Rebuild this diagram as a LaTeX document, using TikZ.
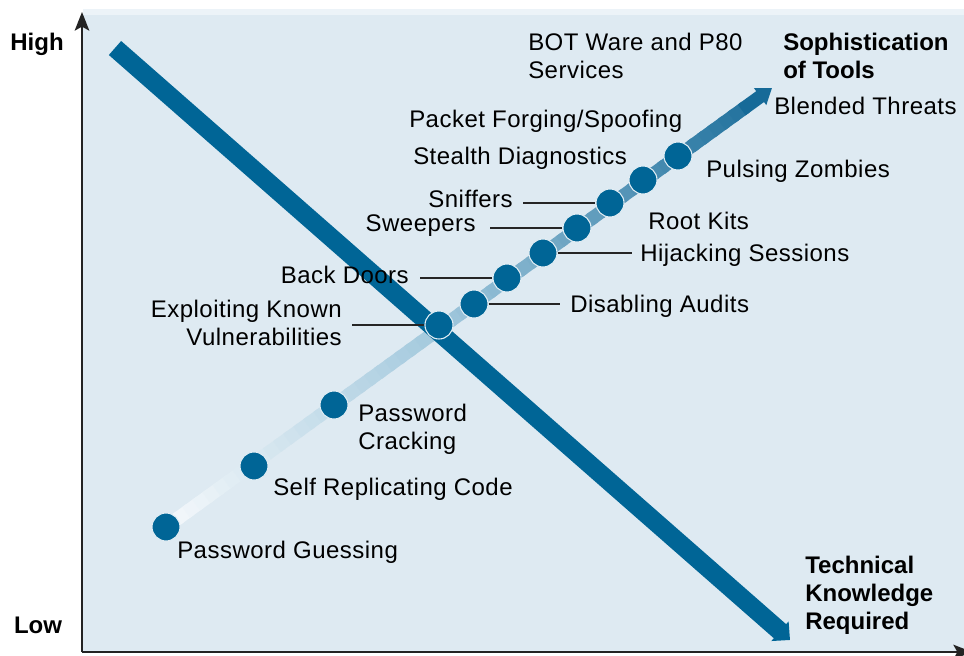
\documentclass[tikz,border=0pt]{standalone}
\usepackage{fontspec}
\setmainfont{Liberation Sans}[LetterSpace=2, BoldFeatures={LetterSpace=0}]
\usetikzlibrary{arrows.meta,calc}

\definecolor{panel}{RGB}{222,234,242}
\definecolor{panelrim}{RGB}{236,243,248}
\definecolor{deepblue}{RGB}{0,101,150}
\definecolor{barstart}{RGB}{244,248,251}
\definecolor{barmid}{RGB}{160,199,220}
\definecolor{barend}{RGB}{22,106,152}
\definecolor{axisgray}{RGB}{35,35,35}
\definecolor{ring}{RGB}{225,237,244}

\tikzset{
  lbl/.style={inner sep=0pt, font=\fontsize{18}{21}\selectfont, text=black},
  hdr/.style={inner sep=0pt, font=\fontsize{18}{21}\selectfont\bfseries, text=black},
  dot/.style={circle, fill=deepblue, draw=ring, line width=0.8pt,
              minimum size=21pt, inner sep=0pt},
  leader/.style={draw=black!85, line width=1pt},
  axis/.style={draw=axisgray, line width=1.1pt,
               -{Stealth[length=14pt,width=11pt,inset=3pt]}},
}

\begin{document}
\begin{tikzpicture}[x=0.75pt,y=-0.75pt]
\useasboundingbox (0,0) rectangle (964,656);

% plotting area
\fill[panelrim] (83,9) rectangle (964,15);
\fill[panel] (83,15) rectangle (964,652);

% axes
\coordinate (origin) at (82,652);
\coordinate (ytop) at (82,12);
\coordinate (xend) at (972,652);
\draw[axis] (origin) -- (ytop);
\draw[axis] (origin) -- (xend);
\node[hdr, anchor=base] (high) at (37,51) {High};
\node[hdr, anchor=base] (low) at (38,633) {Low};

% rising bar: sophistication of tools, fading from white to blue
\coordinate (barstart) at (166,527);
\coordinate (bartip) at (772,88);
\foreach \i in {0,...,56}{
  \pgfmathsetmacro\ta{\i/60}
  \pgfmathsetmacro\tb{(\i+1.4)/60}
  \ifnum\i<27
    \pgfmathsetmacro\pc{\i/27*100}
    \colorlet{segc}{barmid!\pc!barstart}
  \else
    \pgfmathsetmacro\pc{(\i-27)/33*100}
    \colorlet{segc}{barend!\pc!barmid}
  \fi
  \draw[segc, line width=10pt] ($(barstart)!\ta!(bartip)$) -- ($(barstart)!\tb!(bartip)$);
}
\draw[barend, line width=10pt, -{Triangle[length=11pt,width=15pt]}]
  ($(barstart)!0.95!(bartip)$) -- (bartip);

% falling bar: technical knowledge required
\coordinate (kstart) at (115,48);
\coordinate (kend) at (790,640);
\draw[deepblue, line width=14pt, -{Triangle[length=10pt,width=19pt]}] (kstart) -- (kend);

% milestones
\node[dot] (guess)  at (166,527) {};
\node[dot] (selfr)  at (254,466) {};
\node[dot] (crack)  at (334,405) {};
\node[dot] (exploit) at (439,325) {};
\node[dot] (audits) at (474,304) {};
\node[dot] (doors)  at (507,278) {};
\node[dot] (hijack) at (543,253) {};
\node[dot] (sweep)  at (577,228) {};
\node[dot] (sniff)  at (610,203) {};
\node[dot] (stealth) at (643,180) {};
\node[dot] (forge)  at (678,156) {};

% leader lines
\coordinate (sniffL) at (523,203);
\coordinate (sweepL) at (490,228);
\coordinate (hijackR) at (632,253);
\coordinate (doorsL) at (420,278);
\coordinate (auditsR) at (560,304);
\coordinate (exploitL) at (352,325);
\draw[leader] (sniffL) -- (sniff);
\draw[leader] (sweepL) -- (sweep);
\draw[leader] (hijack) -- (hijackR);
\draw[leader] (doorsL) -- (doors);
\draw[leader] (audits) -- (auditsR);
\draw[leader] (exploitL) -- (exploit);

% labels (multi-line nodes sit on the baseline of their last line)
\node[lbl, anchor=base west, align=left] (tbot) at (528,79) {BOT Ware and P80\\Services};
\node[hdr, anchor=base west, align=left] (tsoph) at (783,79) {Sophistication\\of Tools};
\node[lbl, anchor=base west] (tblend) at (774,115) {Blended Threats};
\node[lbl, anchor=base west] (tforge) at (409,128) {Packet Forging/Spoofing};
\node[lbl, anchor=base west] (tstealth) at (413,165) {Stealth Diagnostics};
\node[lbl, anchor=base west] (tzomb) at (706,178) {Pulsing Zombies};
\node[lbl, anchor=base east] (tsniff) at (513,208) {Sniffers};
\node[lbl, anchor=base east] (tsweep) at (476,232) {Sweepers};
\node[lbl, anchor=base west] (troot) at (648,229) {Root Kits};
\node[lbl, anchor=base west] (thijack) at (640,262) {Hijacking Sessions};
\node[lbl, anchor=base east] (tdoors) at (409,283) {Back Doors};
\node[lbl, anchor=base west] (taudits) at (570,312) {Disabling Audits};
\node[lbl, anchor=base east, align=right] (texploit) at (342,345) {Exploiting Known\\Vulnerabilities};
\node[lbl, anchor=base west, align=left] (tcrack) at (358,449) {Password\\Cracking};
\node[lbl, anchor=base west] (tselfr) at (273,495) {Self Replicating Code};
\node[lbl, anchor=base west] (tguess) at (177,558) {Password Guessing};
\node[hdr, anchor=base west, align=left] (ttech) at (805,629) {Technical\\Knowledge\\Required};
\end{tikzpicture}
\end{document}
